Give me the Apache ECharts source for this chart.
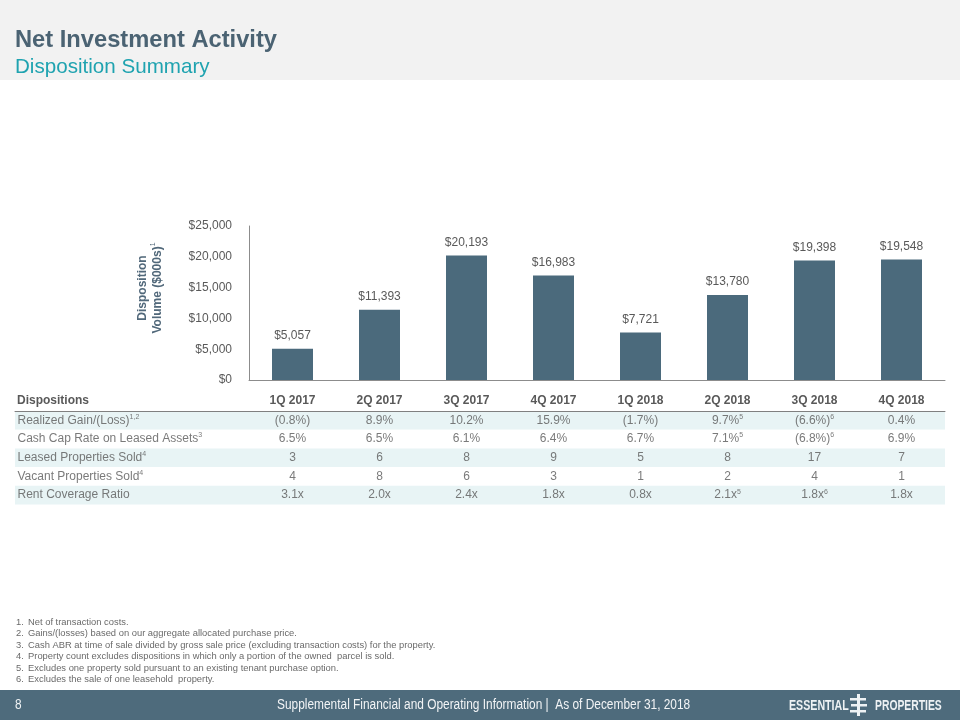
<!DOCTYPE html>
<html><head><meta charset="utf-8">
<script src="https://cdn.jsdelivr.net/npm/echarts@6/dist/echarts.min.js"></script>
<style>html,body{margin:0;padding:0;background:#fff}#c{width:960px;height:720px}</style>
</head><body><div id="c"></div>
<script>
// ---------- data ----------
const categories = ['1Q 2017','2Q 2017','3Q 2017','4Q 2017','1Q 2018','2Q 2018','3Q 2018','4Q 2018'];
const volume = [5057, 11393, 20193, 16983, 7721, 13780, 19398, 19548];
const yMax = 25000;
const yInterval = 5000;

const tableHeader = 'Dispositions';
const rowLabels = ['Realized Gain/(Loss)', 'Cash Cap Rate on Leased Assets', 'Leased Properties Sold', 'Vacant Properties Sold', 'Rent Coverage Ratio'];
const rowLabelNotes = ['1,2', '3', '4', '4', ''];
const realizedGain = ['(0.8%)','8.9%','10.2%','15.9%','(1.7%)','9.7%','(6.6%)','0.4%'];
const cashCapRate = ['6.5%','6.5%','6.1%','6.4%','6.7%','7.1%','(6.8%)','6.9%'];
const leasedSold = ['3','6','8','9','5','8','17','7'];
const vacantSold = ['4','8','6','3','1','2','4','1'];
const rentCoverage = ['3.1x','2.0x','2.4x','1.8x','0.8x','2.1x','1.8x','1.8x'];
const columnNotes = ['','','','','','5','6',''];
const rowsWithNotes = [true, true, false, false, true];

const footnotes = [
  'Net of transaction costs.',
  'Gains/(losses) based on our aggregate allocated purchase price.',
  'Cash ABR at time of sale divided by gross sale price (excluding transaction costs) for the property.',
  'Property count excludes dispositions in which only a portion of the owned  parcel is sold.',
  'Excludes one property sold pursuant to an existing tenant purchase option.',
  'Excludes the sale of one leasehold  property.'
];
const titleText = 'Net Investment Activity';
const subtitleText = 'Disposition Summary';
const footerText = 'Supplemental Financial and Operating Information |  As of December 31, 2018';
const pageNumber = '8';

// ---------- layout ----------
const FONT = '"Liberation Sans", Arial, sans-serif';
const TXT = '#595959';
const BAR = '#4b6a7c';
const LOGO = '#eef2f4';
const G1 = {left: 249, right: 15, top: 226, bottom: 340};
const G2 = {left: 15, right: 15, top: 411, bottom: 215.5};
const plotW = 960 - G1.left - G1.right;
const cw = plotW / categories.length;
const x2min = (G2.left - G1.left) / cw - 0.5;
const x2max = (960 - G2.right - G1.left) / cw - 0.5;

const rows = [realizedGain, cashCapRate, leasedSold, vacantSold, rentCoverage];
const cellData = [];
rows.forEach((row, r) => {
  row.forEach((v, i) => {
    cellData.push([i, r, v, rowsWithNotes[r] ? columnNotes[i] : '']);
  });
});
const labelData = rowLabels.map((t, r) => [x2min, r, t, rowLabelNotes[r]]);

const supFmt = p => p.data[3] ? p.data[2] + '{sup|' + p.data[3] + '}' : p.data[2];
const rich = {sup: {fontSize: 7, verticalAlign: 'top', lineHeight: 14, color: TXT, fontFamily: FONT}};

const graphics = [
  {type: 'rect', shape: {x: 0, y: 0, width: 960, height: 80}, style: {fill: '#f2f2f2'}, z: -10, silent: true},
  {type: 'text', left: 15, top: 28, style: {text: titleText, font: 'bold 23.7px ' + FONT, fill: '#4b6373'}},
  {type: 'text', left: 15, top: 57, style: {text: subtitleText, font: '20.6px ' + FONT, fill: '#1fa3b0'}},
  {type: 'text', x: 17, y: 401, style: {text: tableHeader, font: 'bold 12px ' + FONT, fill: TXT, verticalAlign: 'middle'}},
  {type: 'rect', shape: {x: 0, y: 690, width: 960, height: 30}, style: {fill: '#4e6b7c'}, silent: true},
  {type: 'text', x: 15, y: 705, scaleX: 0.85, style: {text: pageNumber, font: '14px ' + FONT, fill: LOGO, verticalAlign: 'middle'}},
  {type: 'text', x: 277, y: 705, scaleX: 0.85, style: {text: footerText, font: '14px ' + FONT, fill: '#f2f4f6', verticalAlign: 'middle'}},
  {type: 'text', x: 789, y: 706, scaleX: 0.76, style: {text: 'ESSENTIAL', font: 'bold 14px ' + FONT, fill: LOGO, verticalAlign: 'middle'}},
  {type: 'text', x: 875, y: 706, scaleX: 0.74, style: {text: 'PROPERTIES', font: 'bold 14px ' + FONT, fill: LOGO, verticalAlign: 'middle'}},
  {type: 'rect', shape: {x: 857, y: 694, width: 3, height: 22}, style: {fill: LOGO}},
  {type: 'rect', shape: {x: 850, y: 698, width: 16, height: 2.5}, style: {fill: LOGO}},
  {type: 'rect', shape: {x: 851, y: 704, width: 16, height: 2.5}, style: {fill: LOGO}},
  {type: 'rect', shape: {x: 850, y: 710, width: 16, height: 2.5}, style: {fill: LOGO}}
];
footnotes.forEach((t, k) => {
  const y = 622 + k * 11.5;
  graphics.push({type: 'text', x: 16, y: y, style: {text: (k + 1) + '.', font: '9.4px ' + FONT, fill: '#6a6a6a', verticalAlign: 'middle'}});
  graphics.push({type: 'text', x: 28, y: y, style: {text: t, font: '9.4px ' + FONT, fill: '#6a6a6a', verticalAlign: 'middle'}});
});

const chart = echarts.init(document.getElementById('c'), null, {renderer: 'canvas'});
chart.setOption({
  animation: false,
  backgroundColor: '#ffffff',
  textStyle: {fontFamily: FONT},
  graphic: graphics,
  grid: [
    {left: G1.left, right: G1.right, top: G1.top, bottom: G1.bottom, containLabel: false},
    {left: G2.left, right: G2.right, top: G2.top, bottom: G2.bottom, containLabel: false}
  ],
  xAxis: [
    {type: 'category', gridIndex: 0, data: categories,
     axisLine: {show: true, lineStyle: {color: '#8c8c8c', width: 1}},
     axisTick: {show: false},
     axisLabel: {show: true, margin: 15, fontSize: 12, fontWeight: 'bold', color: TXT, fontFamily: FONT}},
    {type: 'value', gridIndex: 1, min: x2min, max: x2max, position: 'top',
     axisLine: {show: true, onZero: false, lineStyle: {color: '#808080', width: 1}},
     axisTick: {show: false}, axisLabel: {show: false}, splitLine: {show: false}}
  ],
  yAxis: [
    {type: 'value', gridIndex: 0, min: 0, max: yMax, interval: yInterval,
     axisLine: {show: true, lineStyle: {color: '#8c8c8c', width: 1}},
     axisTick: {show: false}, splitLine: {show: false},
     axisLabel: {margin: 17, fontSize: 12, color: TXT, fontFamily: FONT,
                 formatter: v => '$' + v.toLocaleString('en-US')},
     name: '{b|Disposition}\n{b|Volume ($000s)}{s|1}',
     nameLocation: 'middle', nameRotate: 90, nameGap: 84,
     nameTextStyle: {padding: [0, 0, 0, 30], rich: {
       b: {fontSize: 12, fontWeight: 'bold', color: '#51687a', lineHeight: 15, fontFamily: FONT},
       s: {fontSize: 7, color: '#51687a', verticalAlign: 'top', lineHeight: 15, fontFamily: FONT}}}},
    {type: 'category', gridIndex: 1, data: rowLabels, inverse: true,
     axisLine: {show: false, onZero: false}, axisTick: {show: false}, axisLabel: {show: false},
     splitLine: {show: false},
     splitArea: {show: true, areaStyle: {color: ['#e8f4f5', '#ffffff']}}}
  ],
  series: [
    {type: 'bar', xAxisIndex: 0, yAxisIndex: 0, data: volume, barWidth: 41,
     itemStyle: {color: BAR},
     label: {show: true, position: 'top', distance: 7, fontSize: 12, color: TXT, fontFamily: FONT,
             formatter: p => '$' + p.value.toLocaleString('en-US')}},
    {type: 'scatter', xAxisIndex: 1, yAxisIndex: 1, data: cellData, symbolSize: 1,
     itemStyle: {color: 'rgba(0,0,0,0)'}, silent: true,
     label: {show: true, position: 'inside', fontSize: 12, color: TXT, fontFamily: FONT, formatter: supFmt, rich: rich}},
    {type: 'scatter', xAxisIndex: 1, yAxisIndex: 1, data: labelData, symbolSize: 1,
     itemStyle: {color: 'rgba(0,0,0,0)'}, silent: true,
     label: {show: true, position: 'right', distance: 2, fontSize: 12, color: TXT, fontFamily: FONT, formatter: supFmt, rich: rich}}
  ]
});
</script>
</body></html>
